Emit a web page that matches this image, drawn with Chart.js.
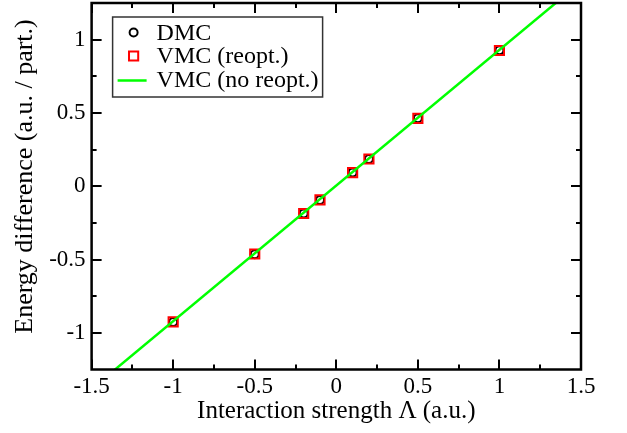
<!DOCTYPE html>
<html>
<head>
<meta charset="utf-8">
<script src="https://cdn.jsdelivr.net/npm/chart.js@4.4.1/dist/chart.umd.min.js"></script>
<style>
  html, body { margin: 0; padding: 0; background: #fff; }
  #wrap { width: 627px; height: 433px; }
</style>
</head>
<body>
<div id="wrap"><canvas id="chart" width="627" height="433"></canvas></div>
<script>
// interaction strength and energy differences (a.u. / particle)
const lambda = [-1, -0.5, -0.2, -0.1, 0.1, 0.2, 0.5, 1];
const dmcEnergy = [-0.926, -0.464, -0.186, -0.093, 0.093, 0.186, 0.464, 0.927];
const vmcReopt = [-0.925, -0.462, -0.186, -0.093, 0.093, 0.186, 0.463, 0.926];
// VMC without reoptimisation, straight line across the whole range
const fitLambda = [-1.5, 1.5];
const fitEnergy = [-1.383, 1.393];

const xMajor = [-1.5, -1, -0.5, 0, 0.5, 1, 1.5];
const xMinor = [-1.25, -0.75, -0.25, 0.25, 0.75, 1.25];
const yMajor = [-1, -0.5, 0, 0.5, 1];
const yMinor = [-0.75, -0.25, 0.25, 0.75];

const SERIF = "'Liberation Serif', 'Times New Roman', serif";

const pts = (xs, ys) => xs.map((x, i) => ({ x, y: ys[i] }));

// closed frame with inward ticks on all four sides
const frameTicks = {
  id: 'frameTicks',
  afterDatasetsDraw(chart) {
    const { ctx, chartArea: a, scales: { x, y } } = chart;
    ctx.save();
    ctx.strokeStyle = '#000';
    ctx.lineWidth = 2;
    const xt = (vals, len) => vals.forEach(v => {
      const px = Math.round(x.getPixelForValue(v));
      ctx.beginPath();
      ctx.moveTo(px, a.bottom); ctx.lineTo(px, a.bottom - len);
      ctx.moveTo(px, a.top); ctx.lineTo(px, a.top + len);
      ctx.stroke();
    });
    const yt = (vals, len) => vals.forEach(v => {
      const py = Math.round(y.getPixelForValue(v));
      ctx.beginPath();
      ctx.moveTo(a.left, py); ctx.lineTo(a.left + len, py);
      ctx.moveTo(a.right, py); ctx.lineTo(a.right - len, py);
      ctx.stroke();
    });
    xt(xMajor, 10); xt(xMinor, 5);
    yt(yMajor, 10); yt(yMinor, 5);
    ctx.lineWidth = 2.5;
    ctx.strokeRect(a.left, a.top, a.right - a.left, a.bottom - a.top);
    ctx.restore();
  }
};

// boxed legend in the upper left corner of the plot
const boxLegend = {
  id: 'boxLegend',
  afterDraw(chart) {
    const { ctx, chartArea: a } = chart;
    const left = a.left + 21, top = a.top + 14, w = 210, h = 80;
    ctx.save();
    ctx.fillStyle = '#fff';
    ctx.fillRect(left, top, w, h);
    ctx.strokeStyle = '#333';
    ctx.lineWidth = 1.5;
    ctx.strokeRect(left, top, w, h);
    ctx.font = '24px ' + SERIF;
    ctx.textBaseline = 'alphabetic';
    chart.data.datasets.forEach((ds, i) => {
      const cy = top + 15.5 + i * 23.5;
      const mx = left + 21;
      ctx.strokeStyle = ds.borderColor;
      ctx.lineWidth = 2;
      if (ds.showLine) {
        ctx.lineWidth = ds.borderWidth;
        ctx.beginPath();
        ctx.moveTo(left + 5, cy + 1); ctx.lineTo(left + 34, cy + 1);
        ctx.stroke();
      } else {
        ctx.fillStyle = 'rgba(0,0,0,0)';
        Chart.helpers.drawPoint(ctx, {
          pointStyle: ds.pointStyle,
          radius: ds.pointStyle === 'rect' ? 6.5 : 4,
          borderWidth: 2
        }, mx, cy);
      }
      ctx.fillStyle = '#000';
      ctx.fillText(ds.label, left + 44, cy + 7);
    });
    ctx.restore();
  }
};

// drop the label overhang so the frame can reach the canvas edge
const noOverhang = s => { s.paddingTop = 0; s.paddingBottom = 0; };

new Chart(document.getElementById('chart'), {
  type: 'scatter',
  data: {
    datasets: [
      {
        label: 'DMC',
        data: pts(lambda, dmcEnergy),
        pointStyle: 'circle',
        pointRadius: 4,
        borderColor: '#000',
        backgroundColor: 'rgba(0,0,0,0)',
        borderWidth: 2,
        order: 3
      },
      {
        label: 'VMC (reopt.)',
        data: pts(lambda, vmcReopt),
        pointStyle: 'rect',
        pointRadius: 6.5,
        borderColor: '#ff0000',
        backgroundColor: 'rgba(0,0,0,0)',
        borderWidth: 2,
        order: 2
      },
      {
        label: 'VMC (no reopt.)',
        data: pts(fitLambda, fitEnergy),
        showLine: true,
        pointRadius: 0,
        borderColor: '#00ff00',
        borderWidth: 2.5,
        order: 1
      }
    ]
  },
  options: {
    responsive: false,
    animation: false,
    devicePixelRatio: 1,
    layout: { autoPadding: false, padding: { left: 10, right: 46, top: 3, bottom: 9 } },
    plugins: {
      legend: { display: false },
      tooltip: { enabled: false }
    },
    scales: {
      x: {
        type: 'linear',
        min: -1.5,
        max: 1.5,
        afterBuildTicks: s => { s.ticks = xMajor.map(v => ({ value: v })); },
        grid: { display: false, drawTicks: false },
        border: { display: false },
        ticks: {
          color: '#000',
          font: { family: SERIF, size: 23, lineHeight: 1 },
          padding: 6,
          callback: v => String(v)
        },
        title: {
          display: true,
          text: 'Interaction strength Λ (a.u.)',
          color: '#000',
          font: { family: SERIF, size: 25, lineHeight: 1 },
          padding: { top: -5.5, bottom: 0 }
        }
      },
      y: {
        type: 'linear',
        min: -1.25,
        max: 1.25,
        afterBuildTicks: s => { s.ticks = yMajor.map(v => ({ value: v })); },
        afterFit: noOverhang,
        grid: { display: false, drawTicks: false },
        border: { display: false },
        ticks: {
          color: '#000',
          font: { family: SERIF, size: 23 },
          padding: 6,
          callback: v => String(v)
        },
        title: {
          display: true,
          // leading spaces lift the rotated title a little above centre
          text: '   Energy difference (a.u. / part.)',
          color: '#000',
          font: { family: SERIF, size: 26 },
          padding: { top: 0, bottom: 2 }
        }
      }
    }
  },
  plugins: [frameTicks, boxLegend]
});
</script>
</body>
</html>
